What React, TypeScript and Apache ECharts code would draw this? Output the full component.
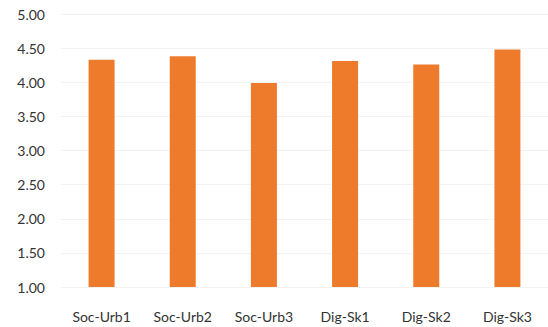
import React, { useEffect, useRef } from "react";
import * as echarts from "echarts";

const categories = ["Soc-Urb1", "Soc-Urb2", "Soc-Urb3", "Dig-Sk1", "Dig-Sk2", "Dig-Sk3"];
const values = [4.33, 4.38, 3.99, 4.31, 4.26, 4.48];
const yMin = 1;
const yMax = 5;
const yStep = 0.5;

export default function App() {
  const ref = useRef<HTMLDivElement>(null);

  useEffect(() => {
    if (!ref.current) return;
    const chart = echarts.init(ref.current, null, { renderer: "svg" });
    chart.setOption({
      animation: false,
      backgroundColor: "#ffffff",
      textStyle: { fontFamily: "Lato" },
      grid: { left: 61, right: -12, top: 14, bottom: 40 },
      xAxis: {
        type: "category",
        data: categories,
        axisLine: { show: false },
        axisTick: { show: false },
        axisLabel: { color: "#333333", fontSize: 14, margin: 22 },
      },
      yAxis: {
        type: "value",
        min: yMin,
        max: yMax,
        interval: yStep,
        axisLine: { show: false },
        axisTick: { show: false },
        axisLabel: {
          color: "#333333",
          fontSize: 14,
          margin: 16,
          formatter: (v: number) => v.toFixed(2),
        },
        splitLine: { lineStyle: { color: "#f3f3f3", width: 1 } },
      },
      series: [
        {
          type: "bar",
          data: values,
          barWidth: 26,
          itemStyle: { color: "#EE7B2C" },
        },
      ],
    });
    return () => chart.dispose();
  }, []);

  return (
    <div
      ref={ref}
      style={{ position: "absolute", left: 0, top: 0, width: 548, height: 327 }}
    />
  );
}
